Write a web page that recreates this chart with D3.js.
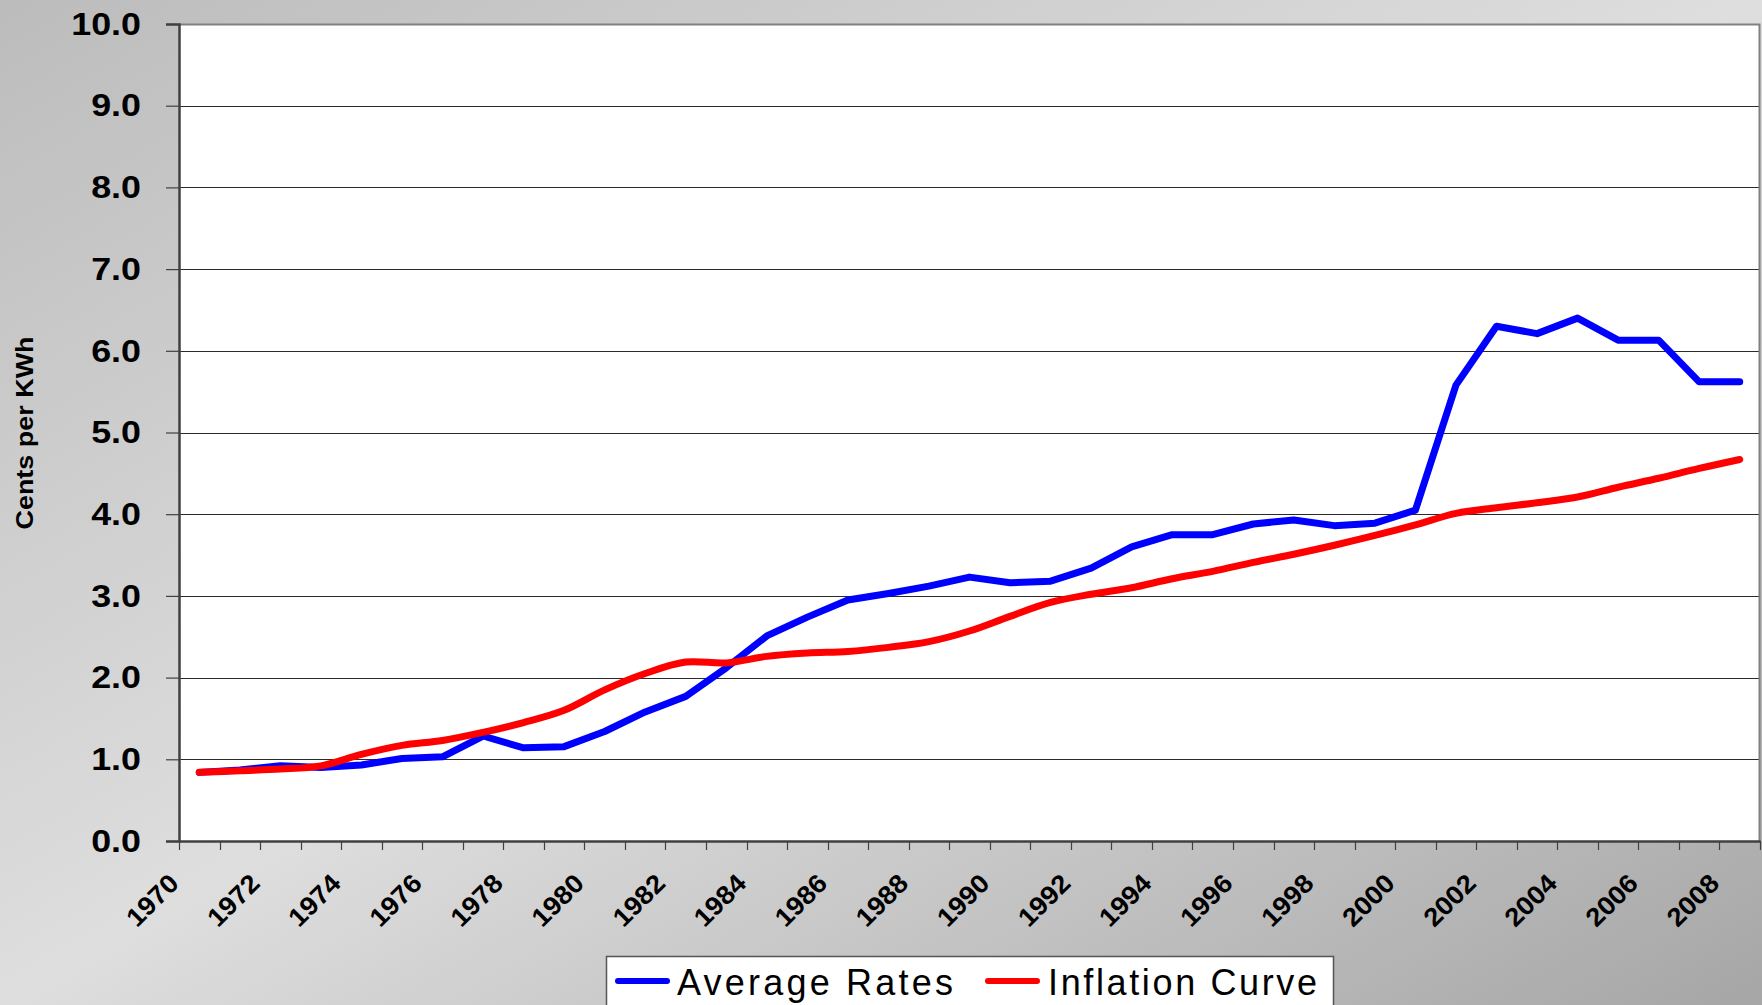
<!DOCTYPE html>
<html>
<head>
<meta charset="utf-8">
<script src="https://cdn.jsdelivr.net/npm/d3@7"></script>
<style>
  html, body { margin: 0; padding: 0; overflow: hidden; }
  svg { display: block; }
  text { font-family: Arial, "Liberation Sans", sans-serif; }
</style>
</head>
<body>
<svg id="chart" width="1762" height="1005"></svg>
<script>
// ---- data ----
const years = d3.range(1970, 2009).map(String);
const averageRates = [0.84, 0.87, 0.92, 0.90, 0.93, 1.01, 1.03, 1.285, 1.14, 1.155,
  1.34, 1.58, 1.77, 2.12, 2.51, 2.74, 2.95, 3.03, 3.12, 3.23,
  3.16, 3.18, 3.34, 3.60, 3.75, 3.75, 3.88, 3.93, 3.86, 3.89,
  4.05, 5.58, 6.30, 6.21, 6.40, 6.13, 6.13, 5.62, 5.62];
const inflationCurve = [0.84, 0.86, 0.88, 0.92, 1.06, 1.17, 1.23, 1.33, 1.45, 1.60,
  1.85, 2.05, 2.19, 2.18, 2.26, 2.30, 2.32, 2.37, 2.44, 2.57,
  2.75, 2.92, 3.02, 3.10, 3.21, 3.30, 3.41, 3.51, 3.62, 3.74,
  3.87, 4.01, 4.08, 4.14, 4.21, 4.33, 4.44, 4.56, 4.67];
const yTicks = [0, 1, 2, 3, 4, 5, 6, 7, 8, 9, 10];
const xLabels = years.filter((d, i) => i % 2 === 0);
const seriesNames = ["Average Rates", "Inflation Curve"];
const seriesColors = ["#0000ff", "#ff0000"];
const yTitle = "Cents per KWh";

(function () {
// ---- layout ----
const W = 1762, H = 1005;
const pLeft = 179, pRight = 1760, pTop = 24, pBottom = 841;
const svg = d3.select("#chart");

const defs = svg.append("defs");
const grad = defs.append("linearGradient").attr("id", "bg")
  .attr("x1", 0).attr("y1", 0).attr("x2", 1).attr("y2", 1);
grad.append("stop").attr("offset", 0).attr("stop-color", "#bcbcbc");
grad.append("stop").attr("offset", 0.5).attr("stop-color", "#dedede");
grad.append("stop").attr("offset", 1).attr("stop-color", "#a6a6a6");
svg.append("rect").attr("width", W).attr("height", H).attr("fill", "url(#bg)");

const x = d3.scaleBand().domain(years).range([pLeft, pRight]).padding(0);
const y = d3.scaleLinear().domain([0, 10]).range([pBottom, pTop]);
const cx = d => x(d) + x.bandwidth() / 2;

// plot area
svg.append("rect").attr("x", pLeft).attr("y", pTop)
  .attr("width", pRight - pLeft).attr("height", pBottom - pTop)
  .attr("fill", "#ffffff");

// gridlines
svg.append("g").selectAll("line").data(yTicks.filter(v => v > 0 && v < 10)).join("line")
  .attr("x1", pLeft).attr("x2", pRight)
  .attr("y1", d => Math.round(y(d)) + 0.5).attr("y2", d => Math.round(y(d)) + 0.5)
  .attr("stroke", "#2a2a2a").attr("stroke-width", 1.2);

// plot border top/right
svg.append("path")
  .attr("d", `M${pLeft},${pTop + 0.5}H${pRight - 0.5}V${pBottom}`)
  .attr("fill", "none").attr("stroke", "#808080").attr("stroke-width", 2);

// y axis
const yAxis = svg.append("g").attr("transform", `translate(${pLeft},0)`)
  .call(d3.axisLeft(y).tickValues(yTicks).tickFormat(d3.format(".1f")).tickSize(13).tickPadding(25));
yAxis.select(".domain").attr("stroke", "#404040").attr("stroke-width", 2.5);
yAxis.selectAll(".tick line").attr("stroke", "#404040").attr("stroke-width", 1.2);
yAxis.selectAll(".tick text")
  .attr("font-size", 32).attr("font-weight", "bold").attr("fill", "#000")
  .attr("font-family", "Arial, 'Liberation Sans', sans-serif")
  .each(function () {
    const n = this.getComputedTextLength();
    d3.select(this).attr("textLength", n * 1.12).attr("lengthAdjust", "spacingAndGlyphs");
  });

// x axis (domain line)
const xAxis = svg.append("g").attr("transform", `translate(0,${pBottom})`)
  .call(d3.axisBottom(x).tickSize(0).tickFormat(""));
xAxis.select(".domain").attr("stroke", "#404040").attr("stroke-width", 2.5);
xAxis.selectAll(".tick").remove();

// x tick marks at category boundaries
const boundaries = years.map(d => x(d)).concat([x(years[years.length - 1]) + x.bandwidth()]);
svg.append("g").selectAll("line").data(boundaries).join("line")
  .attr("x1", d => Math.round(d) + 0.5).attr("x2", d => Math.round(d) + 0.5)
  .attr("y1", pBottom).attr("y2", pBottom + 9)
  .attr("stroke", "#404040").attr("stroke-width", 1.2);

// x labels
svg.append("g").selectAll("text").data(xLabels).join("text")
  .attr("transform", d => `translate(${cx(d) - 19},${pBottom + 44}) rotate(-45)`)
  .attr("text-anchor", "end")
  .attr("font-size", 26).attr("font-weight", "bold").attr("fill", "#000")
  .text(d => d)
  .each(function () {
    const n = this.getComputedTextLength();
    d3.select(this).attr("textLength", n * 1.06).attr("lengthAdjust", "spacingAndGlyphs");
  });

// y title
svg.append("text")
  .attr("transform", `translate(33,433) rotate(-90)`)
  .attr("text-anchor", "middle")
  .attr("font-size", 23).attr("font-weight", "bold").attr("fill", "#000")
  .attr("textLength", 193).attr("lengthAdjust", "spacingAndGlyphs")
  .text(yTitle);

// lines
const blueLine = d3.line().x((d, i) => cx(years[i])).y(d => y(d)).curve(d3.curveLinear);
const redLine = d3.line().x((d, i) => cx(years[i])).y(d => y(d)).curve(d3.curveCatmullRom.alpha(0.5));

svg.append("path").datum(averageRates).attr("d", blueLine)
  .attr("fill", "none").attr("stroke", seriesColors[0]).attr("stroke-width", 7)
  .attr("stroke-linejoin", "round").attr("stroke-linecap", "round");
svg.append("path").datum(inflationCurve).attr("d", redLine)
  .attr("fill", "none").attr("stroke", seriesColors[1]).attr("stroke-width", 7)
  .attr("stroke-linejoin", "round").attr("stroke-linecap", "round");

// legend
const lg = svg.append("g");
lg.append("rect").attr("x", 606.5).attr("y", 956.5).attr("width", 727).attr("height", 60)
  .attr("fill", "#ffffff").attr("stroke", "#555555").attr("stroke-width", 1.5);
const legendItems = [
  { name: seriesNames[0], color: seriesColors[0], x1: 618, x2: 667, tx: 677, tl: 276 },
  { name: seriesNames[1], color: seriesColors[1], x1: 988, x2: 1037, tx: 1048, tl: 269 }
];
legendItems.forEach(it => {
  lg.append("line").attr("x1", it.x1).attr("x2", it.x2).attr("y1", 981).attr("y2", 981)
    .attr("stroke", it.color).attr("stroke-width", 6).attr("stroke-linecap", "round");
  lg.append("text").attr("x", it.tx).attr("y", 995)
    .attr("font-size", 36).attr("fill", "#000")
    .attr("textLength", it.tl).attr("lengthAdjust", "spacing")
    .text(it.name);
});
})();
</script>
</body>
</html>
